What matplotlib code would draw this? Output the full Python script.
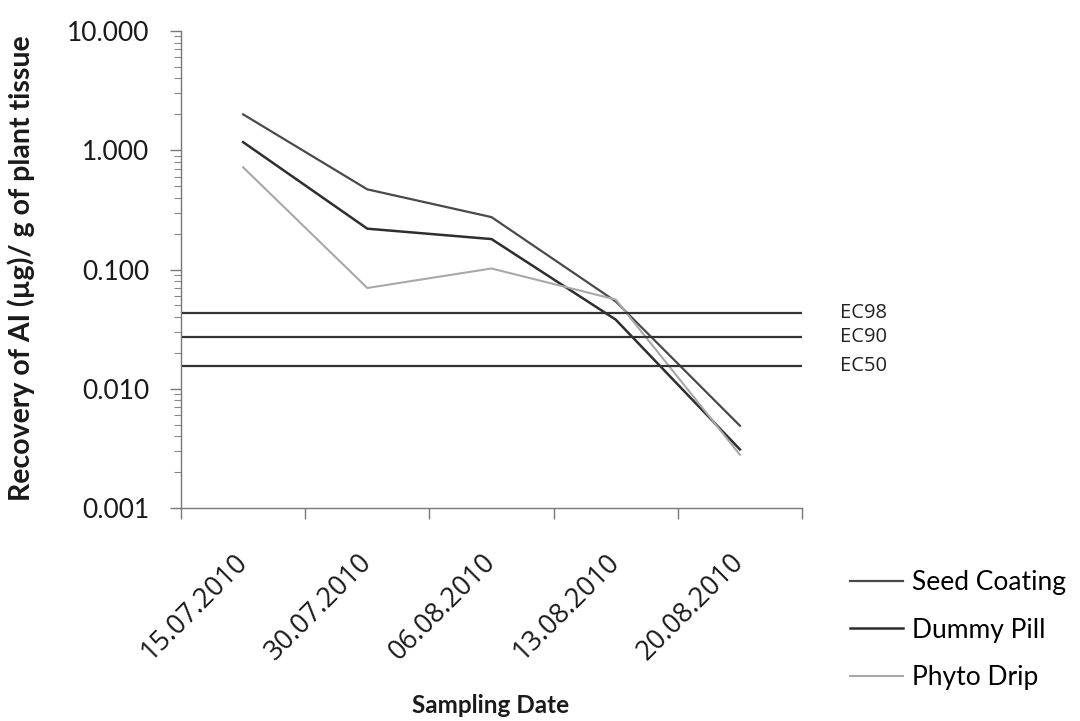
import matplotlib
matplotlib.use("Agg")
import matplotlib.pyplot as plt
from matplotlib.ticker import FixedLocator, LogLocator, NullFormatter, FixedFormatter

plt.rcParams['font.family'] = ['Lato', 'DejaVu Sans']

dates = ["15.07.2010", "30.07.2010", "06.08.2010", "13.08.2010", "20.08.2010"]
seed_coating = [2.0, 0.47, 0.275, 0.054, 0.0049]
dummy_pill = [1.17, 0.22, 0.18, 0.038, 0.0031]
phyto_drip = [0.72, 0.07, 0.102, 0.056, 0.0028]
ec_labels = ["EC98", "EC90", "EC50"]
ec_values = [0.0434, 0.0272, 0.0155]
y_ticks = [0.001, 0.01, 0.1, 1, 10]
y_tick_labels = ["0.001", "0.010", "0.100", "1.000", "10.000"]

fig = plt.figure(figsize=(10.8, 7.21), dpi=100)
ax = fig.add_axes([0.1676, 0.2954, 0.575, 0.6616])

x = list(range(len(dates)))
l1, = ax.plot(x, seed_coating, color='#4a4a4a', lw=1.6, label='Seed Coating')
l2, = ax.plot(x, dummy_pill, color='#2e2e2e', lw=1.8, label='Dummy Pill')
l3, = ax.plot(x, phyto_drip, color='#a8a8a8', lw=1.5, label='Phyto Drip')

for lab, v in zip(ec_labels, ec_values):
    ax.axhline(v, color='#333333', lw=1.6, xmin=0, xmax=1)
    ax.annotate(lab, xy=(1, v), xycoords=('axes fraction', 'data'),
                xytext=(27, 0), textcoords='offset points', va='center', ha='left',
                fontsize=14.5, family=['Open Sans', 'DejaVu Sans'], color='#222222')

ax.set_yscale('log')
ax.set_ylim(0.001, 10)
ax.set_xlim(-0.5, len(dates) - 0.5)

ax.yaxis.set_major_locator(FixedLocator(y_ticks))
ax.yaxis.set_major_formatter(FixedFormatter(y_tick_labels))
ax.yaxis.set_minor_locator(LogLocator(base=10, subs=range(2, 10), numticks=20))
ax.yaxis.set_minor_formatter(NullFormatter())
ax.tick_params(axis='y', which='major', length=8, width=1, color='#777777',
               labelsize=19, pad=15, labelcolor='#1a1a1a')
ax.tick_params(axis='y', which='minor', length=5, width=0.8, color='#888888')

# category boundaries as tick marks; labels at centers
bounds = [i - 0.5 for i in range(len(dates) + 1)]
ax.xaxis.set_major_locator(FixedLocator(bounds))
ax.xaxis.set_major_formatter(NullFormatter())
ax.xaxis.set_minor_locator(FixedLocator(x))
ax.xaxis.set_minor_formatter(FixedFormatter(dates))
ax.tick_params(axis='x', which='major', length=8, width=1, color='#777777')
ax.tick_params(axis='x', which='minor', length=0, labelsize=19.5, pad=36, labelcolor='#1a1a1a')
for t in ax.xaxis.get_minorticklabels():
    t.set_rotation(45)
    t.set_ha('right')
    t.set_va('center')
    t.set_rotation_mode('anchor')
    t.set_family(['Open Sans', 'DejaVu Sans'])

for s in ['top', 'right']:
    ax.spines[s].set_visible(False)
for s in ['left', 'bottom']:
    ax.spines[s].set_color('#777777')
    ax.spines[s].set_linewidth(1.0)

fig.text(0.02, 0.628, "Recovery of AI (µg)/ g of plant tissue", rotation=90,
         ha='center', va='center', fontsize=20.5, fontweight='bold', color='#1a1a1a')
fig.text(0.454, 0.022, "Sampling Date", ha='center', va='center',
         fontsize=17.5, fontweight='bold', color='#1a1a1a')

fig.legend(handles=[l1, l2, l3], loc='upper left', bbox_to_anchor=(0.765, 0.242),
           frameon=False, handlelength=2.0, handletextpad=0.35,
           labelspacing=0.85, prop={'family': ['Lato', 'DejaVu Sans'], 'size': 19})

fig.savefig("out.png", dpi=100, facecolor='white')
